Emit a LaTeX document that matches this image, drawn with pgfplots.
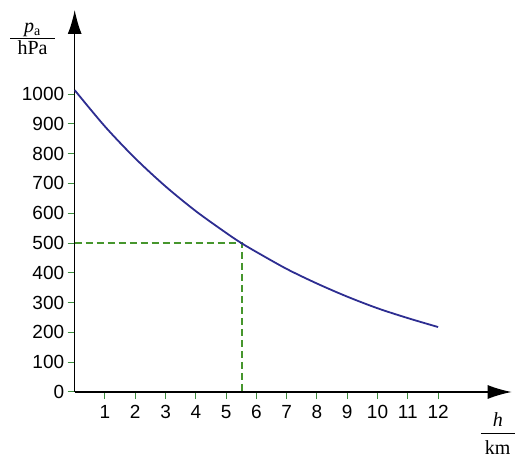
\documentclass[border=0pt]{standalone}
\usepackage{pgfplots}
\pgfplotsset{compat=1.18}
\usepackage{fontspec}
\setmainfont{Liberation Sans}
\newfontfamily\serif{Liberation Serif}
\usetikzlibrary{arrows.meta}
\definecolor{curveblue}{RGB}{45,45,145}
\definecolor{dashgreen}{RGB}{70,150,45}
\definecolor{tickgreen}{RGB}{60,140,60}
\begin{document}
\begin{tikzpicture}
\begin{axis}[
  scale only axis,
  width=437pt, height=382pt,
  xmin=0, xmax=14.43,
  ymin=0, ymax=1282,
  axis lines=left,
  axis line style={black, line width=1.4pt, -{Latex[length=24pt,width=14pt]}},
  xtick={1,2,...,12},
  ytick={0,100,...,1000},
  tick align=outside,
  major tick length=7pt,
  tick style={tickgreen, line width=1pt},
  /pgf/number format/assume math mode=true,
  /pgf/number format/1000 sep={},
  ticklabel style={font=\fontsize{19}{22}\selectfont},
  xticklabel style={yshift=-3pt},
  clip=false,
]
\addplot[dashgreen, line width=1.5pt, dash pattern=on 7pt off 4pt] coordinates {(0,500) (5.52,500) (5.52,0)};
\addplot[curveblue, line width=1.8pt, smooth] coordinates {
(0,1013) (1,891) (2,784) (3,690) (4,607) (5,534) (5.5,500) (6,470) (7,413) (8,364) (9,320) (10,281) (11,248) (12,218)};
% y-axis label as fraction
\draw[black, line width=1pt] (axis cs:-2.13,1188) -- (axis cs:-0.65,1188);
\node[anchor=base, inner sep=0pt, font=\fontsize{20}{24}\selectfont\serif] at (axis cs:-1.39,1206) {\textit{p}\textsubscript{a}};
\node[anchor=base, inner sep=0pt, font=\fontsize{20}{24}\selectfont\serif] at (axis cs:-1.39,1131) {hPa};
% x-axis label as fraction
\draw[black, line width=1pt] (axis cs:13.41,-137.6) -- (axis cs:14.53,-137.6);
\node[anchor=base, inner sep=0pt, font=\fontsize{20}{24}\selectfont\serif] at (axis cs:13.97,-117) {\textit{h}};
\node[anchor=base, inner sep=0pt, font=\fontsize{20}{24}\selectfont\serif] at (axis cs:13.97,-211) {km};
\end{axis}
\path (-74.7pt,-69pt) rectangle (456.3pt,392pt);
\end{tikzpicture}
\end{document}
